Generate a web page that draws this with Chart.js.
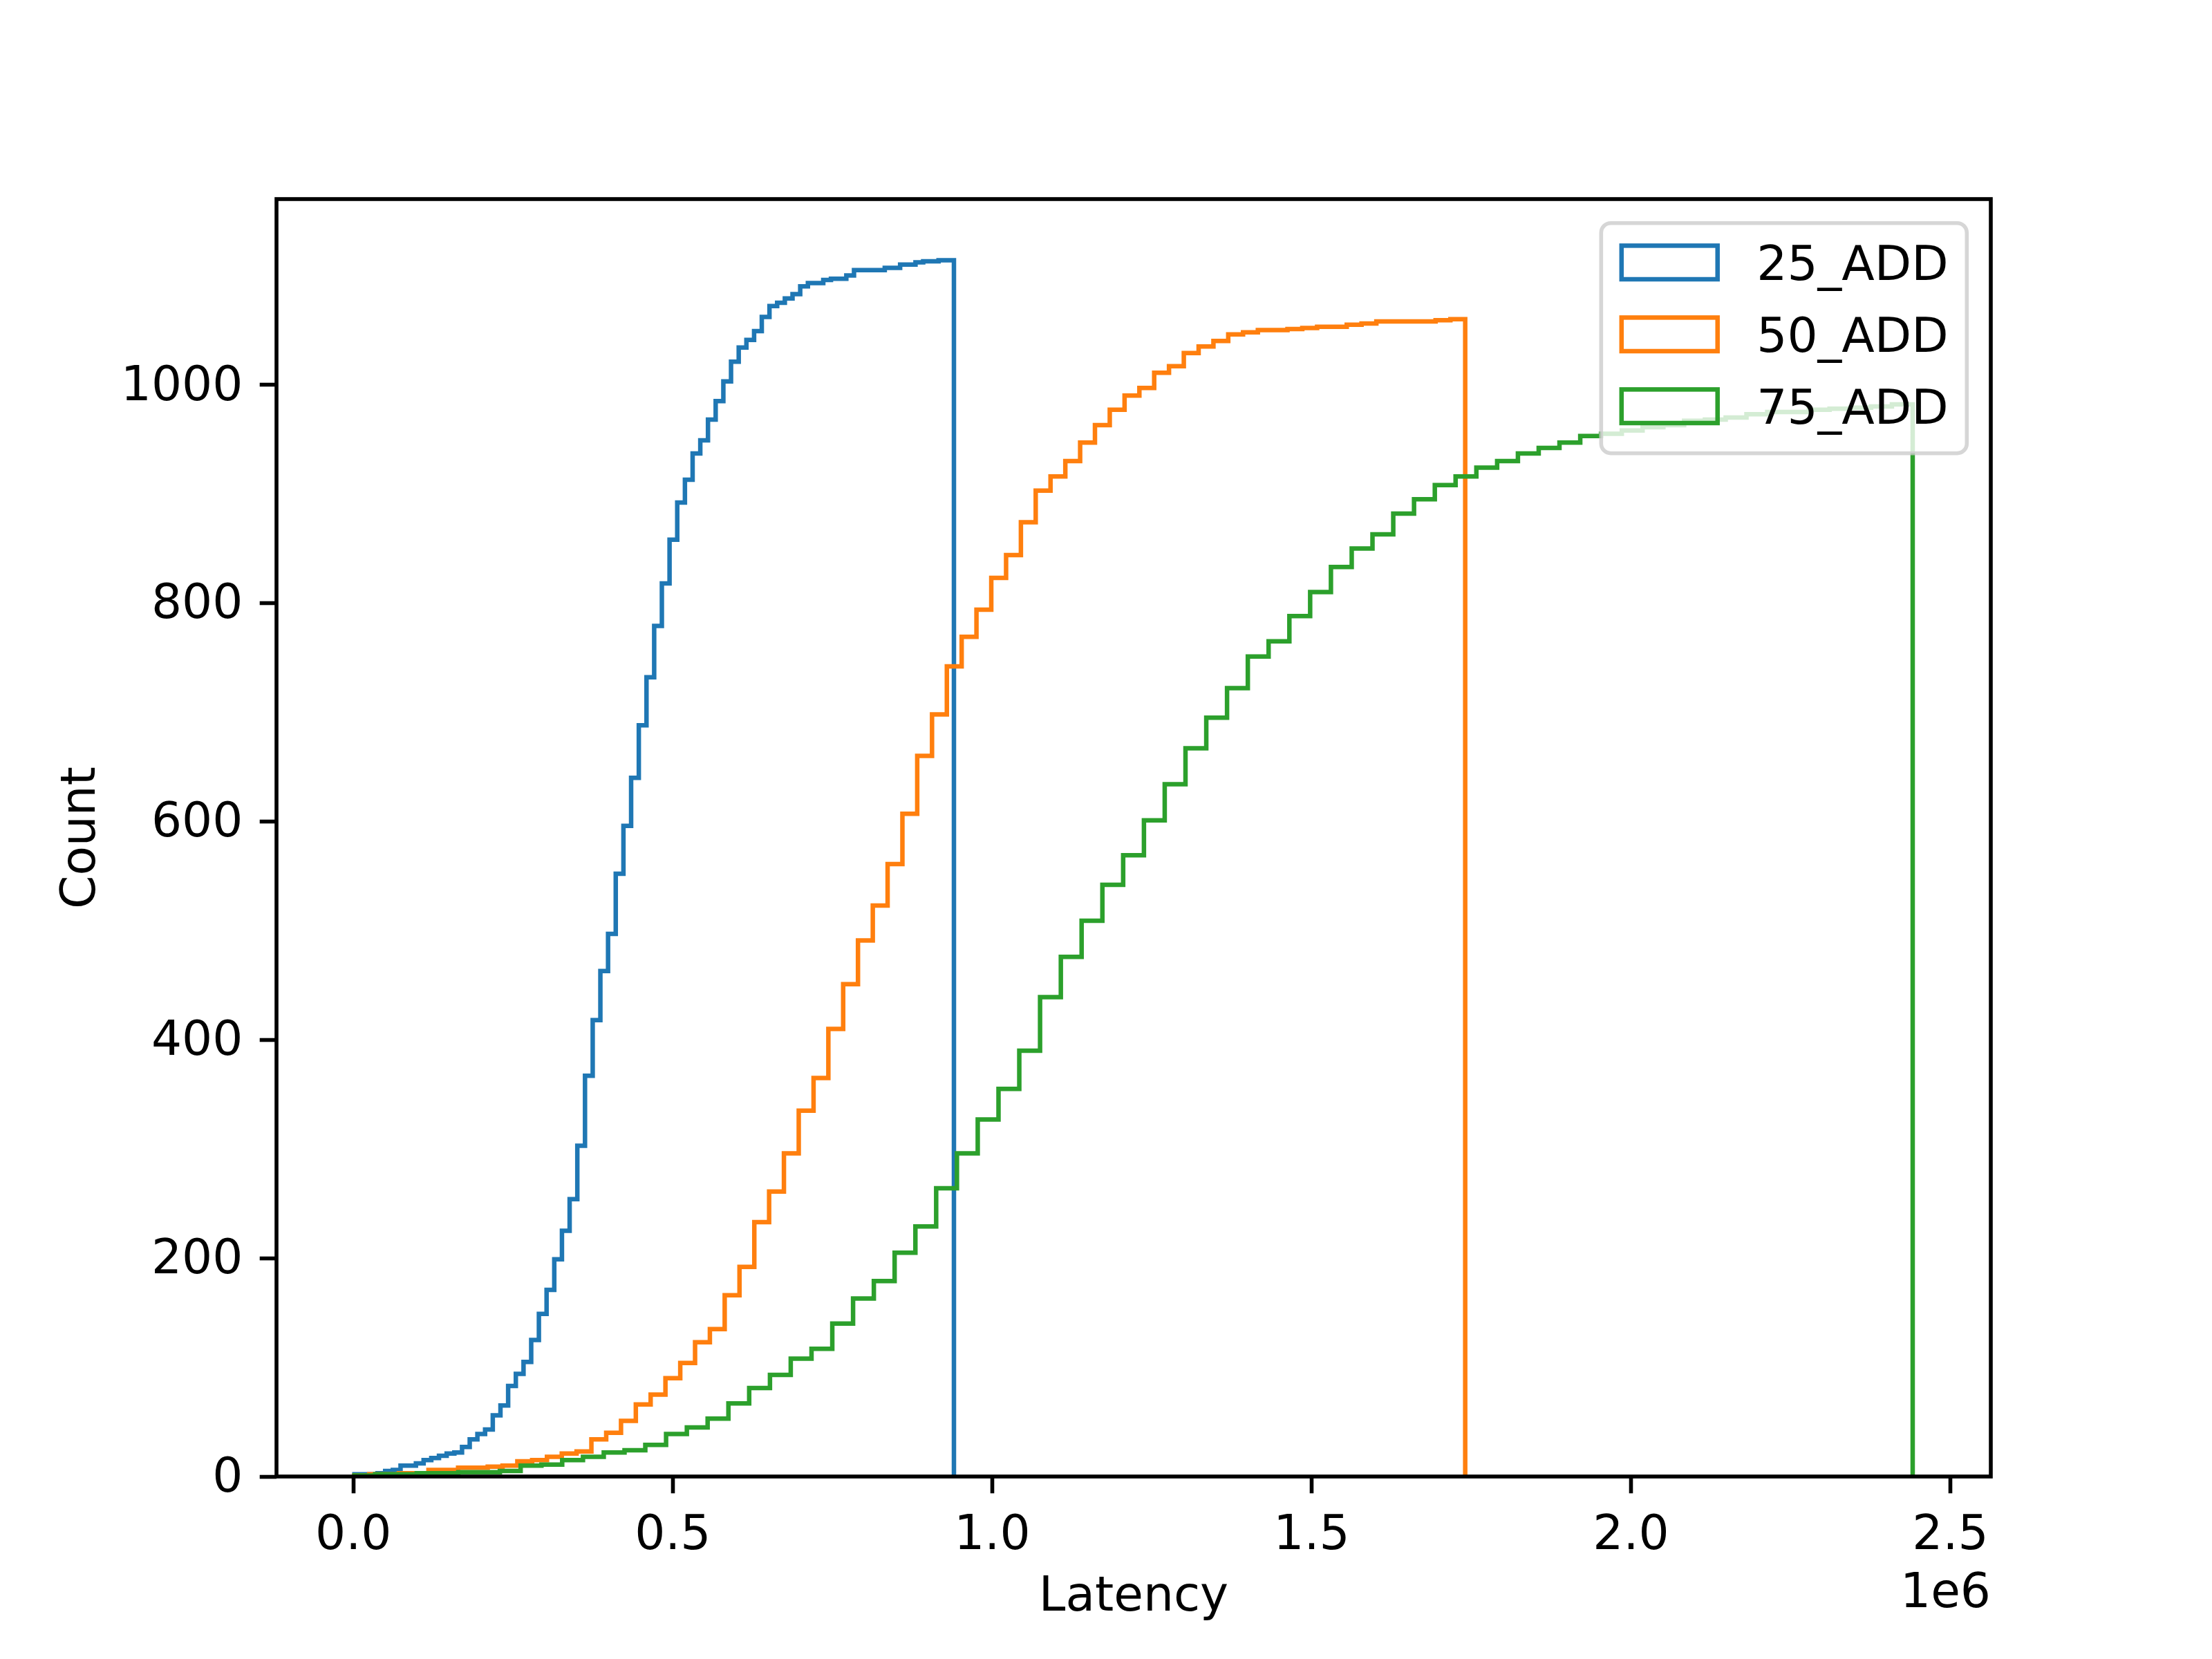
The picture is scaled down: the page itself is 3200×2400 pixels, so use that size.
<!DOCTYPE html>
<html>
<head>
<meta charset="utf-8">
<script src="https://cdn.jsdelivr.net/npm/chart.js@4.4.1/dist/chart.umd.min.js"></script>
<style>
html,body{margin:0;padding:0;background:#ffffff;overflow:hidden}
canvas{display:block}
</style>
</head>
<body>
<canvas id="c" width="3200" height="2400" style="width:3200px;height:2400px"></canvas>
<script>
// ---------- data ----------
const seriesLabels = ['25_ADD', '50_ADD', '75_ADD'];
const seriesColors = ['#1f77b4', '#ff7f0e', '#2ca02c'];

// histogram range [first bin edge, last bin edge] for each series (latency units)
const binRange25 = [1600, 940100];
const binRange50 = [1600, 1740500];
const binRange75 = [1600, 2441000];

// cumulative counts per bin
const counts25 = [2,2,2,3,5,6,10,10,12,15,17,19,21,22,27,34,39,43,56,65,83,94,105,125,149,171,199,225,254,303,367,418,463,
  497,552,596,640,688,732,779,818,858,892,913,937,949,968,985,1003,1021,1034,1041,1049,1062,1072,1075,1079,1083,1090,1093,
  1093,1096,1097,1097,1100,1105,1105,1105,1105,1107,1107,1110,1110,1112,1113,1113,1114,1114];
const counts50 = [1,2,2,3,3,6,6,8,8,9,10,
  14,15,18,21,23,34,40,51,66,75,90,104,123,135,166,192,233,261,296,335,365,
  410,451,491,523,561,607,660,698,742,769,794,823,844,874,903,916,930,947,963,977,990,997,1011,1017,1029,1035,1040,1046,
  1048,1050,1050,1051,1052,1053,1053,1055,1056,1058,1058,1058,1058,1059,1060];
const counts75 = [1,2,2,3,3,4,4,5,
  10,11,15,18,22,24,29,39,45,53,67,81,93,108,117,140,163,179,205,
  229,264,296,327,355,390,439,476,509,542,569,601,634,667,695,722,751,765,788,810,833,850,863,882,895,908,916,924,930,937,
  942,947,953,955,958,961,963,967,968,970,973,975,975,977,978,979,980,982];

// axes
const xLimits = [-120400, 2563300];
const yLimits = [0, 1170];
const xTickValues = [0, 500000, 1000000, 1500000, 2000000, 2500000];
const yTickValues = [0, 200, 400, 600, 800, 1000];
const xTitle = 'Latency';
const yTitle = 'Count';
const xOffsetText = '1e6';

// ---------- build step outlines from bins ----------
function stepPoints(range, counts) {
  const n = counts.length;
  const edge = i => range[0] + (range[1] - range[0]) * i / n;
  const pts = [{x: range[0], y: 0}];
  for (let i = 0; i < n; i++) pts.push({x: edge(i), y: counts[i]});
  pts.push({x: range[1], y: counts[n - 1]});
  pts.push({x: range[1], y: 0});
  return pts;
}

const FONT = 'DejaVu Sans';
const FS = 69.4;
Chart.defaults.font.family = FONT;
Chart.defaults.color = '#000';

const overlay = {
  id: 'overlay',
  afterDatasetsDraw(chart) {
    const {ctx, chartArea: a} = chart;
    ctx.save();
    ctx.lineWidth = 5.6;
    ctx.strokeStyle = '#000';
    ctx.lineJoin = 'miter';
    ctx.strokeRect(a.left, a.top, a.right - a.left, a.bottom - a.top);
    ctx.restore();
  },
  afterDraw(chart) {
    const {ctx, chartArea: a} = chart;
    ctx.save();
    // offset text
    ctx.font = FS + 'px "' + FONT + '"';
    ctx.fillStyle = '#000';
    ctx.textAlign = 'right';
    ctx.textBaseline = 'alphabetic';
    ctx.fillText(xOffsetText, a.right, a.bottom + 189);

    // legend
    const w = 529, h = 333, r = 14;
    const L = a.right - 34.7 - w, T = a.top + 34.7;
    ctx.beginPath();
    ctx.moveTo(L + r, T);
    ctx.lineTo(L + w - r, T);
    ctx.arcTo(L + w, T, L + w, T + r, r);
    ctx.lineTo(L + w, T + h - r);
    ctx.arcTo(L + w, T + h, L + w - r, T + h, r);
    ctx.lineTo(L + r, T + h);
    ctx.arcTo(L, T + h, L, T + h - r, r);
    ctx.lineTo(L, T + r);
    ctx.arcTo(L, T, L + r, T, r);
    ctx.closePath();
    ctx.fillStyle = 'rgba(255,255,255,0.8)';
    ctx.fill();
    ctx.lineWidth = 5.6;
    ctx.strokeStyle = 'rgba(204,204,204,0.8)';
    ctx.stroke();

    ctx.textAlign = 'left';
    for (let i = 0; i < seriesLabels.length; i++) {
      const cy = T + 57 + i * 104;
      ctx.lineWidth = 6.5;
      ctx.strokeStyle = seriesColors[i];
      ctx.strokeRect(L + 29.5, cy - 24.3, 138.9, 48.6);
      ctx.fillStyle = '#000';
      ctx.fillText(seriesLabels[i], L + 225, cy + 25);
    }
    ctx.restore();
  }
};

const ranges = [binRange25, binRange50, binRange75];
const countsAll = [counts25, counts50, counts75];

new Chart(document.getElementById('c'), {
  type: 'line',
  data: {
    datasets: seriesLabels.map((lab, i) => ({
      label: lab,
      data: stepPoints(ranges[i], countsAll[i]),
      borderColor: seriesColors[i],
      backgroundColor: seriesColors[i],
      borderWidth: 6.5,
      pointRadius: 0,
      pointHoverRadius: 0,
      stepped: 'before',
      fill: false,
      tension: 0,
      borderJoinStyle: 'miter',
      order: seriesLabels.length - i
    }))
  },
  options: {
    responsive: false,
    maintainAspectRatio: false,
    devicePixelRatio: 1,
    animation: false,
    events: [],
    layout: {padding: {top: 288, right: 320, bottom: 0, left: 0}},
    plugins: {legend: {display: false}, tooltip: {enabled: false}},
    scales: {
      x: {
        type: 'linear',
        position: 'bottom',
        min: xLimits[0],
        max: xLimits[1],
        afterBuildTicks: s => { s.ticks = xTickValues.map(v => ({value: v})); },
        afterFit: s => { s.height = 264; },
        ticks: {
          autoSkip: false, maxRotation: 0, minRotation: 0,
          padding: 28,
          font: {family: FONT, size: FS, lineHeight: 1},
          color: '#000',
          callback: v => (v / 1e6).toFixed(1)
        },
        grid: {display: true, drawOnChartArea: false, drawTicks: true, tickLength: 24.3, tickWidth: 5.6, tickColor: '#000'},
        border: {display: false},
        title: {display: true, text: xTitle, color: '#000', font: {family: FONT, size: FS, lineHeight: 1}, padding: {top: 0, bottom: 53.6}}
      },
      y: {
        type: 'linear',
        position: 'left',
        min: yLimits[0],
        max: yLimits[1],
        afterBuildTicks: s => { s.ticks = yTickValues.map(v => ({value: v})); },
        afterFit: s => { s.width = 400; },
        ticks: {
          autoSkip: false,
          padding: 24.3,
          labelOffset: 4,
          font: {family: FONT, size: FS, lineHeight: 1},
          color: '#000',
          callback: v => String(v)
        },
        grid: {display: true, drawOnChartArea: false, drawTicks: true, tickLength: 24.3, tickWidth: 5.6, tickColor: '#000'},
        border: {display: false},
        title: {display: true, text: yTitle, color: '#000', font: {family: FONT, size: FS, lineHeight: 1}, padding: {top: 84, bottom: 0}}
      }
    }
  },
  plugins: [overlay]
});
</script>
</body>
</html>
